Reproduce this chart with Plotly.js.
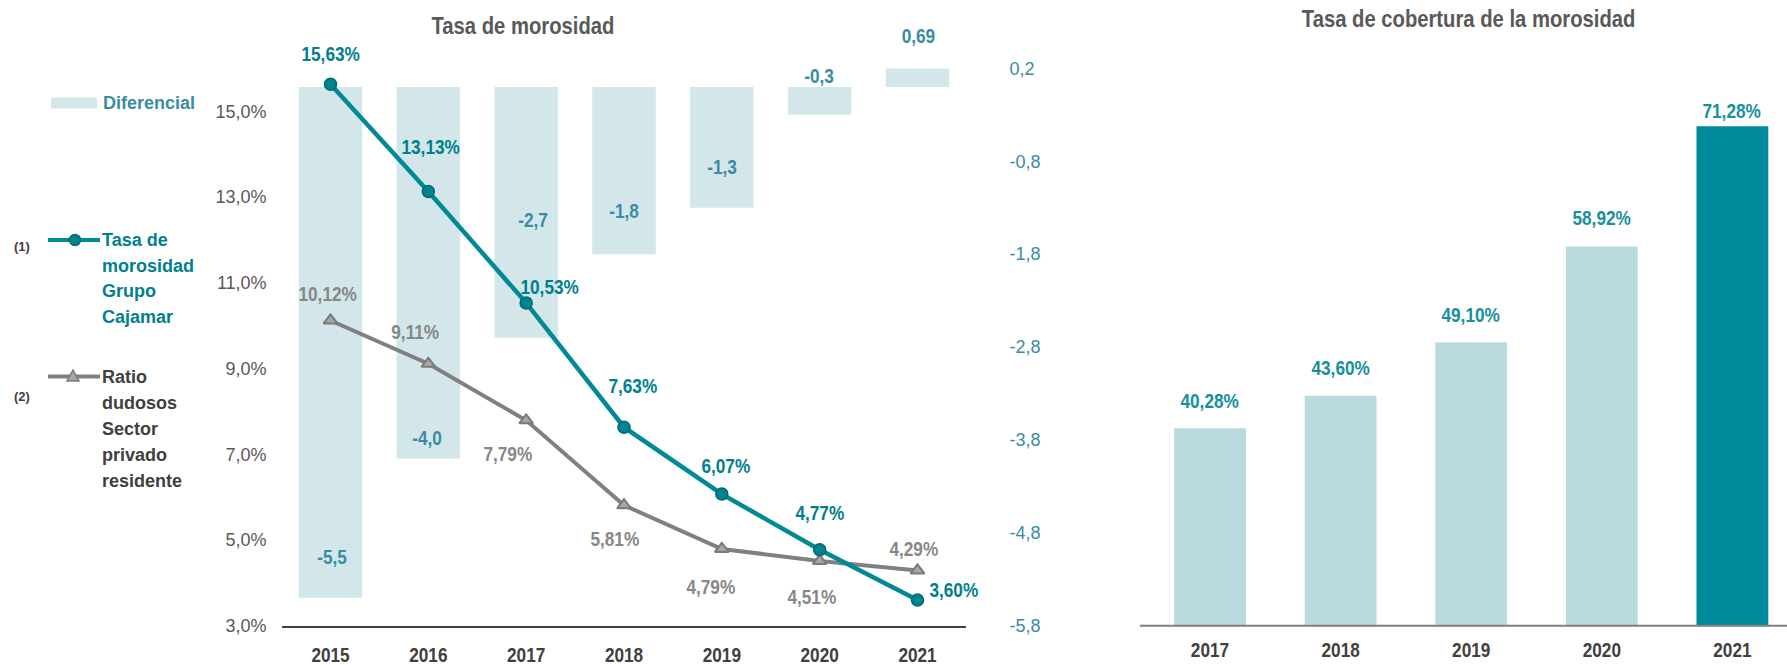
<!DOCTYPE html>
<html>
<head>
<meta charset="utf-8">
<script src="https://cdn.plot.ly/plotly-3.0.1.min.js"></script>
<style>html,body{margin:0;padding:0;background:#fff;}#chart{width:1787px;height:665px;}</style>
</head>
<body>
<div id="chart"></div>
<script>
// ---- data ----
const years = ['2015', '2016', '2017', '2018', '2019', '2020', '2021'];
const tasaGrupo = [15.63, 13.13, 10.53, 7.63, 6.07, 4.77, 3.60];
const ratioSector = [10.12, 9.11, 7.79, 5.81, 4.79, 4.51, 4.29];
const diferencial = [-5.5, -4.0, -2.7, -1.8, -1.3, -0.3, 0.69];
const cobYears = ['2017', '2018', '2019', '2020', '2021'];
const cobertura = [40.28, 43.60, 49.10, 58.92, 71.28];
const leftTicks = [3, 5, 7, 9, 11, 13, 15];
const rightTicks = [-5.8, -4.8, -3.8, -2.8, -1.8, -0.8, 0.2];
const legendTasa = ['Tasa de', 'morosidad', 'Grupo', 'Cajamar'];
const legendRatio = ['Ratio', 'dudosos', 'Sector', 'privado', 'residente'];

// ---- axis ranges and label offsets (px, styling only) ----
const leftRange = [3, 16];
const rightRange = [-5.8, 0.2];
const tasaDx = [0, 3, 24, 9, 4, 0, 37];
const tasaDy = [31, 45, 16, 42, 29, 37, 10];
const ratioDx = [-3, -13, -18, -9, -11, -8, -3];
const ratioDy = [27, 32, -33, -33, -38, -36, 22];
const difDx = [2, -1, 7, 0, 0, -1, 1];
const difDy = [41, 21, 118, 44, 41, 39, 33];
const cobDy = [28, 28, 28, 29, 16];

const W = 1787, H = 665;
const px = x => x / W;
const py = y => 1 - y / H;

// narrow text = Liberation Sans squeezed horizontally after rendering (marker sqNN = NN%)
const NARROW = "'Liberation Sans', 'sq82', sans-serif";
const TITLEF = "'Liberation Sans', 'sq88', sans-serif";
const SANS = "'Liberation Sans', Arial, sans-serif";
const TEAL = '#008a96';
const TEAL_TXT = '#00808c';
const DIF_TXT = '#3a8ca3';
const GRAY = '#808080';

const pct = v => v.toFixed(2).replace('.', ',') + '%';
const dec1 = v => v.toFixed(1).replace('.', ',');
const dif = v => {
  const ten = v * 10;
  const s = Math.abs(ten - Math.round(ten)) < 1e-9 ? v.toFixed(1) : v.toFixed(2);
  return s.replace('.', ',');
};

const traces = [
  {
    type: 'bar', x: years, y: diferencial, xaxis: 'x', yaxis: 'y',
    marker: {color: '#d3e7ea'}, width: 0.65, hoverinfo: 'skip', showlegend: false
  },
  {
    type: 'scatter', mode: 'lines+markers', x: years, y: ratioSector, xaxis: 'x', yaxis: 'y2',
    line: {color: GRAY, width: 4},
    marker: {symbol: 'triangle-up', size: 12, color: '#a6a6a6', line: {color: '#7a7a7a', width: 2}},
    showlegend: false, cliponaxis: false
  },
  {
    type: 'scatter', mode: 'lines+markers', x: years, y: tasaGrupo, xaxis: 'x', yaxis: 'y2',
    line: {color: TEAL, width: 4.5},
    marker: {symbol: 'circle', size: 12, color: '#00838f', line: {color: '#006a74', width: 1.5}},
    showlegend: false, cliponaxis: false
  },
  {
    type: 'bar', x: cobYears, y: cobertura, xaxis: 'x3', yaxis: 'y3',
    marker: {color: cobertura.map((v, i) => i === cobertura.length - 1 ? '#008a9a' : '#b9dbe0')},
    width: 0.55, hoverinfo: 'skip', showlegend: false
  }
];

const annotations = [];
years.forEach((yr, i) => {
  annotations.push({x: i, y: tasaGrupo[i], xref: 'x', yref: 'y2', text: pct(tasaGrupo[i]),
    showarrow: false, xanchor: 'center', yanchor: 'middle', xshift: tasaDx[i], yshift: tasaDy[i],
    font: {family: NARROW, size: 21, color: TEAL_TXT, weight: 'bold'}});
  annotations.push({x: i, y: ratioSector[i], xref: 'x', yref: 'y2', text: pct(ratioSector[i]),
    showarrow: false, xanchor: 'center', yanchor: 'middle', xshift: ratioDx[i], yshift: ratioDy[i],
    font: {family: NARROW, size: 21, color: '#878787', weight: 'bold'}});
  // anchor at the visible end of the bar (bars beyond the axis top are clipped there)
  annotations.push({x: i, y: Math.min(diferencial[i], rightRange[1]), xref: 'x', yref: 'y',
    text: dif(diferencial[i]),
    showarrow: false, xanchor: 'center', yanchor: 'middle', xshift: difDx[i], yshift: difDy[i],
    font: {family: NARROW, size: 21, color: DIF_TXT, weight: 'bold'}});
});
cobYears.forEach((yr, i) => {
  annotations.push({x: i, y: cobertura[i], xref: 'x3', yref: 'y3', text: pct(cobertura[i]),
    showarrow: false, xanchor: 'center', yanchor: 'middle', yshift: cobDy[i],
    font: {family: NARROW, size: 21, color: '#17909d', weight: 'bold'}});
});

// titles
annotations.push({x: px(522.5), y: py(26), xref: 'paper', yref: 'paper', xanchor: 'center', yanchor: 'middle',
  text: 'Tasa de morosidad',
  showarrow: false, font: {family: TITLEF, size: 23, color: '#595959', weight: 'bold'}});
annotations.push({x: px(1468.5), y: py(19.5), xref: 'paper', yref: 'paper', xanchor: 'center', yanchor: 'middle',
  text: 'Tasa de cobertura de la morosidad',
  showarrow: false, font: {family: TITLEF, size: 23, color: '#595959', weight: 'bold'}});

// custom legend
annotations.push({x: px(101), y: py(102.6), xref: 'paper', yref: 'paper', xanchor: 'left', yanchor: 'middle',
  text: 'Diferencial',
  showarrow: false, font: {family: SANS, size: 18, color: DIF_TXT, weight: 'bold'}});
annotations.push({x: px(22), y: py(246), xref: 'paper', yref: 'paper', xanchor: 'center', yanchor: 'middle',
  text: '(1)',
  showarrow: false, font: {family: SANS, size: 13, color: '#404040', weight: 'bold'}});
annotations.push({x: px(22), y: py(396.5), xref: 'paper', yref: 'paper', xanchor: 'center', yanchor: 'middle',
  text: '(2)',
  showarrow: false, font: {family: SANS, size: 13, color: '#404040', weight: 'bold'}});
legendTasa.forEach((t, i) => {
  annotations.push({x: px(101), y: py(239.6 + i * 25.9), xref: 'paper', yref: 'paper', xanchor: 'left', yanchor: 'middle',
    text: t, borderpad: 0,
    showarrow: false, font: {family: SANS, size: 18, color: TEAL_TXT, weight: 'bold'}});
});
legendRatio.forEach((t, i) => {
  annotations.push({x: px(101), y: py(377.4 + i * 26), xref: 'paper', yref: 'paper', xanchor: 'left', yanchor: 'middle',
    text: t, borderpad: 0,
    showarrow: false, font: {family: SANS, size: 18, color: '#404040', weight: 'bold'}});
});

const shapes = [
  {type: 'rect', xref: 'paper', yref: 'paper', x0: px(51), x1: px(97), y0: py(108.6), y1: py(97.5),
    fillcolor: '#d3e7ea', line: {width: 0}},
  {type: 'line', xref: 'paper', yref: 'paper', x0: px(48), x1: px(100), y0: py(240), y1: py(240),
    line: {color: TEAL, width: 4}},
  {type: 'circle', xref: 'paper', yref: 'paper', x0: px(69.5), x1: px(80.5), y0: py(245.5), y1: py(234.5),
    fillcolor: '#00838f', line: {color: '#006a74', width: 1.5}},
  {type: 'line', xref: 'paper', yref: 'paper', x0: px(48), x1: px(100), y0: py(376.6), y1: py(376.6),
    line: {color: GRAY, width: 4}},
  {type: 'path', xref: 'paper', yref: 'paper',
    path: `M ${px(67)} ${py(381)} L ${px(79)} ${py(381)} L ${px(73)} ${py(370)} Z`,
    fillcolor: '#a6a6a6', line: {color: '#7a7a7a', width: 1.5}},
  // right chart baseline
  {type: 'line', xref: 'paper', yref: 'paper', x0: px(1140), x1: 1, y0: py(625.7), y1: py(625.7),
    line: {color: '#7f7f7f', width: 2}}
];

const yBottom = py(625.7);
const layout = {
  width: W, height: H,
  margin: {l: 0, r: 0, t: 0, b: 0},
  paper_bgcolor: '#ffffff', plot_bgcolor: 'rgba(0,0,0,0)',
  separators: ',.',
  showlegend: false,
  xaxis: {
    domain: [px(281.6), px(966.4)], type: 'category', categoryorder: 'array', categoryarray: years,
    range: [-0.5, 6.5], anchor: 'y',
    showline: true, linecolor: '#404040', linewidth: 2, ticks: '', showgrid: false, zeroline: false,
    tickfont: {family: NARROW, size: 21, color: '#404040', weight: 'bold'}, ticklabelstandoff: 9
  },
  yaxis: {
    domain: [yBottom, py(68.4)], range: rightRange, side: 'right', anchor: 'x',
    tickmode: 'array', tickvals: rightTicks, ticktext: rightTicks.map(dec1),
    showgrid: false, zeroline: false, showline: false, ticks: '',
    tickfont: {family: SANS, size: 18, color: '#3a8ca3'}, ticklabelstandoff: 42
  },
  yaxis2: {
    domain: [yBottom, py(68.4)], range: leftRange, side: 'left', overlaying: 'y', anchor: 'x',
    tickmode: 'array', tickvals: leftTicks, ticktext: leftTicks.map(v => dec1(v) + '%'),
    showgrid: false, zeroline: false, showline: false, ticks: '',
    tickfont: {family: SANS, size: 18, color: '#595959'}, ticklabelstandoff: 14
  },
  xaxis3: {
    domain: [px(1144.7), 1], type: 'category', categoryorder: 'array', categoryarray: cobYears,
    range: [-0.5, 4.418], anchor: 'y3',
    showline: false, ticks: '', showgrid: false, zeroline: false,
    tickfont: {family: NARROW, size: 21, color: '#404040', weight: 'bold'}, ticklabelstandoff: 9
  },
  yaxis3: {
    domain: [yBottom, py(41.3)], range: [20, 80], anchor: 'x3', visible: false
  },
  annotations: annotations,
  shapes: shapes
};

function squeezeText(root) {
  root.querySelectorAll('text').forEach(t => {
    const ff = t.style.fontFamily || '';
    const m = ff.match(/sq(\d+)/);
    if (!m) return;
    const s = parseInt(m[1], 10) / 100;
    const bb = t.getBBox();
    const cx = bb.x + bb.width / 2;
    const prev = t.getAttribute('transform') || '';
    t.setAttribute('transform', `${prev} translate(${cx},0) scale(${s},1) translate(${-cx},0)`);
  });
}

Plotly.newPlot('chart', traces, layout, {displayModeBar: false, staticPlot: true})
  .then(gd => squeezeText(gd));
</script>
</body>
</html>
